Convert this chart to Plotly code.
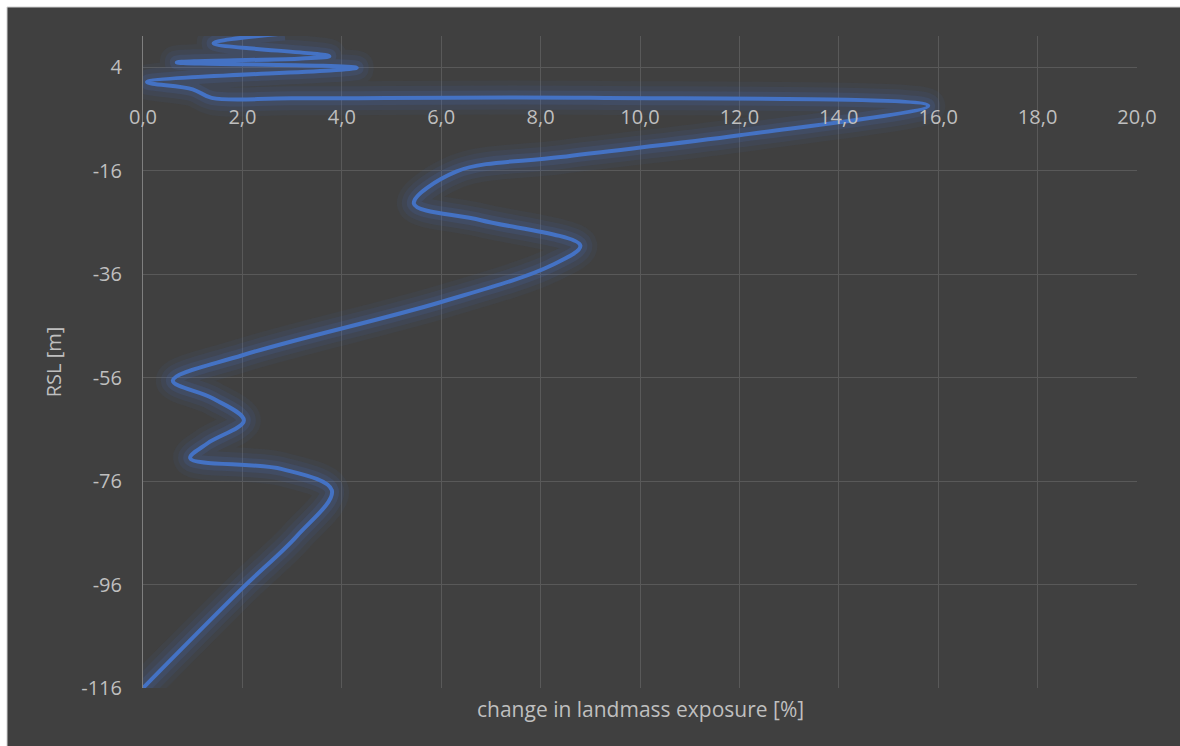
import plotly.graph_objects as go

# Change in exposed landmass (%) at each relative sea level (m)
exposure = [2.85, 1.42, 3.75, 0.68, 4.30, 0.08, 1.00, 1.38, 3.00, 9.00,
            15.80, 12.00, 8.40, 6.30, 5.45, 6.80, 8.80, 8.20, 6.00, 2.00,
            0.60, 1.40, 2.03, 1.30, 0.95, 2.80, 3.80, 3.10, 2.00, 0.00]
rsl = [10.5, 8.6, 6.1, 4.9, 3.85, 1.1, -0.3, -1.95, -2.05, -1.95,
       -3.5, -9.2, -13.4, -16.2, -22.4, -25.6, -30.5, -34.4, -41.4, -51.7,
       -56.6, -60.0, -64.3, -68.7, -71.6, -73.7, -77.8, -86.6, -96.7, -116.0]

x_tick_vals = [0, 2, 4, 6, 8, 10, 12, 14, 16, 18, 20]
x_tick_text = ["0,0", "2,0", "4,0", "6,0", "8,0", "10,0", "12,0", "14,0", "16,0", "18,0", "20,0"]
y_tick_vals = [-116, -96, -76, -56, -36, -16, 4]
y_tick_text = ["-116", "-96", "-76", "-56", "-36", "-16", "4"]

LINE = "#4472C4"
BG = "#404040"
GRID = "#595959"
TEXT = "#BFBFBF"
FONT = "Open Sans, Noto Sans, sans-serif"

fig = go.Figure()

# soft glow around the curve, built from wide translucent strokes
for w, a in [(34, 0.06), (24, 0.09), (14, 0.14)]:
    fig.add_trace(go.Scatter(
        x=exposure, y=rsl, mode="lines",
        line=dict(color=f"rgba(68,114,196,{a})", width=w, shape="spline", smoothing=1.0),
        hoverinfo="skip", showlegend=False,
    ))

fig.add_trace(go.Scatter(
    x=exposure, y=rsl, mode="lines",
    line=dict(color=LINE, width=4, shape="spline", smoothing=1.0),
    showlegend=False,
))

fig.update_layout(
    width=1180, height=746,
    margin=dict(l=143, r=43, t=36, b=58),
    paper_bgcolor="white",
    plot_bgcolor="rgba(0,0,0,0)",
    font=dict(family=FONT, size=20, color=TEXT),
    shapes=[dict(
        type="rect", xref="paper", yref="paper", layer="below",
        x0=(7 - 143) / 994, x1=1.1, y0=-0.2, y1=(688 - 7) / 652,
        fillcolor=BG, line=dict(color="#D0D0D0", width=1),
    )],
    annotations=[dict(
        text="change in landmass exposure [%]", xref="paper", yref="paper",
        x=0.5, y=(688 - 709) / 652, xanchor="center", yanchor="middle",
        showarrow=False, font=dict(family=FONT, size=21, color=TEXT),
    )],
)

fig.update_xaxes(
    range=[0, 20], tickvals=x_tick_vals, ticktext=x_tick_text,
    showgrid=True, gridcolor=GRID, gridwidth=1,
    zeroline=False, showline=False, ticks="",
    anchor="free", position=0.898, side="bottom",
    tickfont=dict(family=FONT, size=20, color=TEXT),
)

fig.update_yaxes(
    range=[-116, 10], tickvals=y_tick_vals, ticktext=y_tick_text,
    showgrid=True, gridcolor=GRID, gridwidth=1,
    zeroline=False, showline=True, linecolor="#7F7F7F", linewidth=1,
    ticks="", ticklabelstandoff=16,
    tickfont=dict(family=FONT, size=20, color=TEXT),
    title=dict(text="RSL [m]", standoff=14, font=dict(family=FONT, size=20, color=TEXT)),
)

fig.write_html("out.html")
